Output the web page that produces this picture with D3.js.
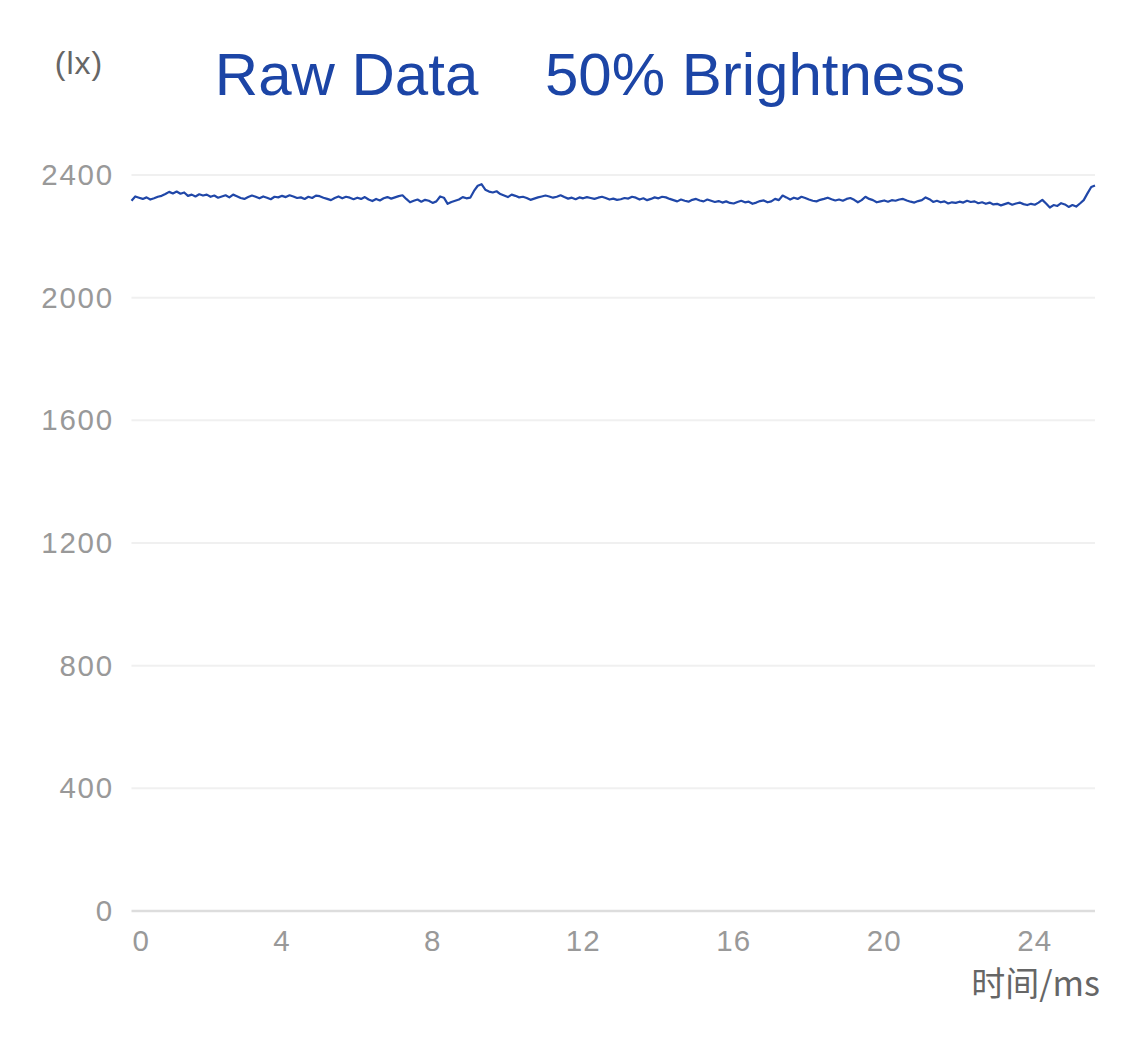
<!DOCTYPE html>
<html>
<head>
<meta charset="utf-8">
<script src="https://cdn.jsdelivr.net/npm/d3@7"></script>
<style>
  html, body { margin: 0; padding: 0; background: #ffffff; }
  svg { display: block; }
</style>
</head>
<body>
<svg id="chart" width="1125" height="1040"></svg>
<script>
// ---- data ----
const titleText = "Raw Data    50% Brightness";
const yUnit = "(lx)";
const xAxisName = "时间/ms";
const xTicks = [0, 4, 8, 12, 16, 20, 24];
const yTicks = [0, 400, 800, 1200, 1600, 2000, 2400];
const timeStep = 0.1; // ms between samples
const illuminance = [
  2316, 2330, 2326, 2322, 2327, 2320, 2324, 2329, 2332, 2338,
  2345, 2340, 2346, 2339, 2343, 2332, 2336, 2330, 2337, 2333,
  2336, 2329, 2333, 2326, 2330, 2334, 2327, 2336, 2331, 2325,
  2322, 2328, 2333, 2329, 2324, 2330, 2326, 2321, 2329, 2327,
  2332, 2328, 2334, 2330, 2325, 2327, 2322, 2329, 2325, 2333,
  2331, 2326, 2322, 2318, 2325, 2330, 2324, 2329, 2326, 2321,
  2326, 2322, 2328, 2320, 2315, 2322, 2317, 2324, 2328, 2323,
  2327, 2331, 2334, 2322, 2311, 2316, 2320, 2313, 2319, 2316,
  2309, 2314, 2330, 2326, 2306, 2312, 2316, 2320, 2328, 2324,
  2326, 2348, 2365, 2370, 2352, 2346, 2343, 2347, 2338, 2333,
  2328, 2336, 2332, 2327, 2329, 2325, 2319, 2323, 2327, 2330,
  2333, 2330, 2326, 2329, 2334, 2328, 2323, 2326, 2321, 2327,
  2324, 2328, 2325, 2322, 2326, 2329, 2325, 2320, 2323, 2319,
  2321, 2325, 2323, 2329, 2326, 2320, 2324, 2318, 2322, 2327,
  2324, 2329, 2327, 2322, 2318, 2314, 2320, 2316, 2313, 2319,
  2322, 2317, 2314, 2320, 2316, 2312, 2315, 2310, 2314, 2309,
  2307, 2312, 2316, 2311, 2313, 2306, 2310, 2315, 2317, 2311,
  2314, 2322, 2318, 2333, 2327, 2320, 2326, 2322, 2329, 2325,
  2320, 2316, 2314, 2319, 2322, 2326, 2321, 2317, 2320, 2316,
  2322, 2325, 2319, 2311, 2318, 2329, 2322, 2318, 2311, 2314,
  2317, 2313, 2318, 2316, 2320, 2322, 2317, 2313, 2310, 2315,
  2318, 2327, 2321, 2312, 2316, 2311, 2314, 2307, 2311, 2309,
  2313, 2310, 2316, 2312, 2314, 2308, 2311, 2306, 2310, 2304,
  2306, 2301, 2305, 2309, 2303, 2307, 2310, 2305, 2302, 2306,
  2303, 2310, 2319, 2307, 2294, 2302, 2299, 2308, 2304, 2296,
  2302, 2297, 2307, 2318, 2340, 2361, 2366
];
const xMax = 25.6;
const yMax = 2400;

// ---- drawing ----
const svg = d3.select("#chart");
const plotLeft = 131.5, plotRight = 1095, plotTop = 175, plotBottom = 911;

const x = d3.scaleLinear().domain([0, xMax]).range([plotLeft, plotRight]);
const y = d3.scaleLinear().domain([0, yMax]).range([plotBottom, plotTop]);

const labelFont = "'Liberation Sans', Arial, sans-serif";
const blue = "#1c45a6";

// grid lines
svg.append("g").selectAll("line")
  .data(yTicks.filter(d => d !== 0))
  .join("line")
  .attr("x1", plotLeft).attr("x2", plotRight)
  .attr("y1", d => y(d)).attr("y2", d => y(d))
  .attr("stroke", "#f0f0f0").attr("stroke-width", 2);

// x axis line
svg.append("line")
  .attr("x1", plotLeft).attr("x2", plotRight)
  .attr("y1", y(0)).attr("y2", y(0))
  .attr("stroke", "#dddddd").attr("stroke-width", 2.5);

// y tick labels
svg.append("g").selectAll("text")
  .data(yTicks)
  .join("text")
  .attr("x", 114)
  .attr("y", d => y(d) + 10)
  .attr("text-anchor", "end")
  .attr("font-family", labelFont)
  .attr("font-size", 29.5)
  .attr("letter-spacing", 1.8)
  .attr("fill", "#999999")
  .text(d => d);

// x tick labels
svg.append("g").selectAll("text")
  .data(xTicks)
  .join("text")
  .attr("x", d => d === 0 ? x(d) + 1 : x(d))
  .attr("y", 951)
  .attr("text-anchor", d => d === 0 ? "start" : "middle")
  .attr("font-family", labelFont)
  .attr("font-size", 29.5)
  .attr("letter-spacing", 1)
  .attr("fill", "#999999")
  .text(d => d);

// line
const pts = illuminance.map((v, i) => [i * timeStep, v]);
svg.append("path")
  .datum(pts)
  .attr("fill", "none")
  .attr("stroke", "#2047a8")
  .attr("stroke-width", 2.2)
  .attr("stroke-linejoin", "round")
  .attr("d", d3.line().x(d => x(d[0])).y(d => y(d[1])));

// unit label
svg.append("text")
  .attr("x", 79).attr("y", 74)
  .attr("text-anchor", "middle")
  .attr("font-family", labelFont)
  .attr("font-size", 32)
  .attr("letter-spacing", 1)
  .attr("fill", "#666666")
  .text(yUnit);

// x axis name
svg.append("text")
  .attr("x", 1100).attr("y", 996)
  .attr("text-anchor", "end")
  .attr("font-family", "'Noto Sans CJK SC', 'Liberation Sans', sans-serif")
  .attr("font-size", 34)
  .attr("fill", "#666666")
  .text(xAxisName);

// title
svg.append("text")
  .attr("x", 590).attr("y", 95)
  .attr("text-anchor", "middle")
  .attr("font-family", labelFont)
  .attr("font-size", 60)
  .attr("fill", blue)
  .style("white-space", "pre")
  .text(titleText);
</script>
</body>
</html>
